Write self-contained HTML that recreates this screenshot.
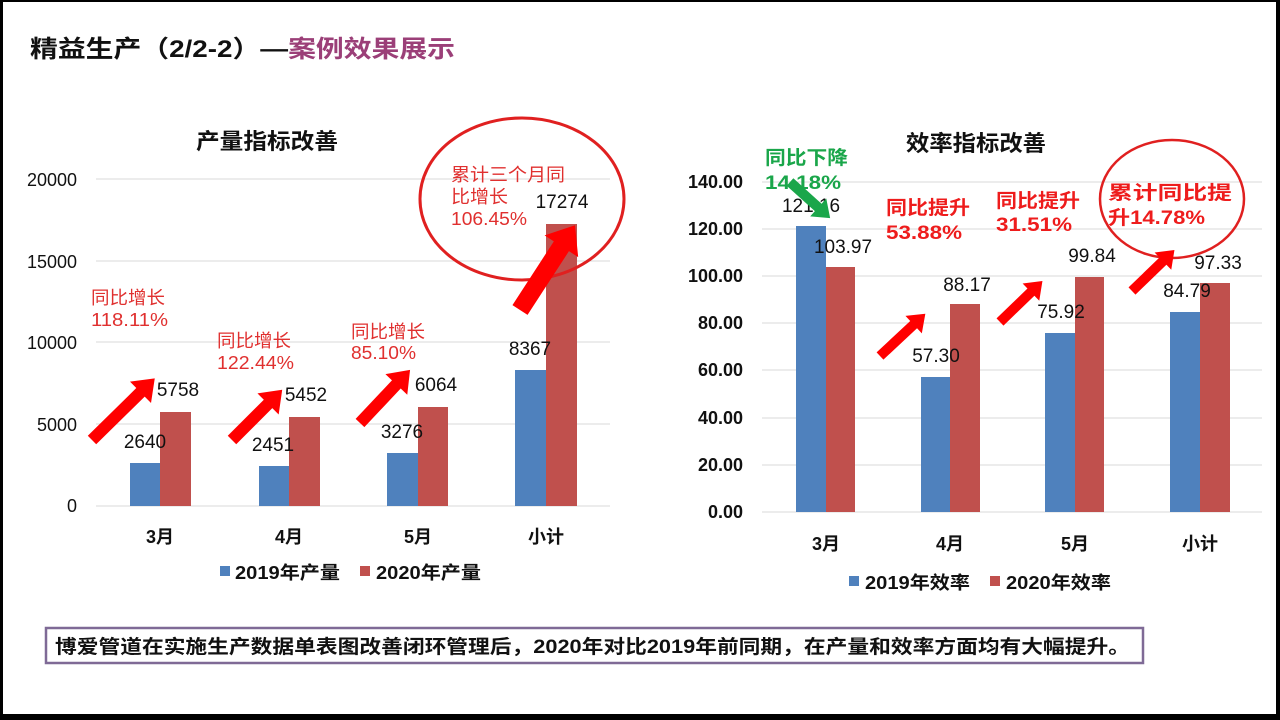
<!DOCTYPE html>
<html><head><meta charset="utf-8">
<style>
html,body{margin:0;padding:0;background:#fff;}
body{width:1280px;height:720px;overflow:hidden;}
svg{display:block;}
text{font-family:"Liberation Sans","Noto Sans CJK SC",sans-serif;}
</style></head><body>
<svg width="1280" height="720" viewBox="0 0 1280 720" xmlns="http://www.w3.org/2000/svg">
<rect x="0" y="0" width="1280" height="720" fill="#fff"/>
<rect x="0" y="0" width="1280" height="2" fill="#000"/>
<rect x="0" y="0" width="3" height="720" fill="#000"/>
<rect x="1276" y="0" width="4" height="720" fill="#000"/>
<rect x="0" y="714" width="1280" height="6" fill="#000"/>

<text x="30" y="57" font-size="24" font-weight="bold" fill="#111" textLength="425" lengthAdjust="spacingAndGlyphs">精益生产（2/2-2）—<tspan fill="#9b3f78">案例效果展示</tspan></text>

<!-- LEFT CHART -->
<text x="196" y="149" font-size="22" font-weight="bold" fill="#111" textLength="142" lengthAdjust="spacingAndGlyphs">产量指标改善</text>
<g stroke="#d9d9d9" stroke-width="1">
<line x1="96" y1="179" x2="610" y2="179"/>
<line x1="96" y1="261" x2="610" y2="261"/>
<line x1="96" y1="342" x2="610" y2="342"/>
<line x1="96" y1="424" x2="610" y2="424"/>
<line x1="96" y1="506" x2="610" y2="506"/>
</g>
<g font-size="18" text-anchor="end" fill="#111">
<text x="77" y="186">20000</text>
<text x="77" y="268">15000</text>
<text x="77" y="349">10000</text>
<text x="77" y="431">5000</text>
<text x="77" y="512">0</text>
</g>
<g fill="#4f81bd">
<rect x="130" y="463" width="30" height="43"/>
<rect x="259" y="466" width="30" height="40"/>
<rect x="387" y="453" width="31" height="53"/>
<rect x="515" y="370" width="31" height="136"/>
</g>
<g fill="#c0504d">
<rect x="160" y="412" width="31" height="94"/>
<rect x="289" y="417" width="31" height="89"/>
<rect x="418" y="407" width="30" height="99"/>
<rect x="546" y="224" width="31" height="282"/>
</g>
<g font-size="19" fill="#111" text-anchor="middle">
<text x="145" y="448">2640</text>
<text x="178" y="396">5758</text>
<text x="273" y="451">2451</text>
<text x="306" y="401">5452</text>
<text x="402" y="438">3276</text>
<text x="436" y="391">6064</text>
<text x="530" y="355">8367</text>
<text x="562" y="208">17274</text>
</g>
<g font-size="18" font-weight="bold" fill="#111" text-anchor="middle">
<text x="160" y="543">3月</text>
<text x="289" y="543">4月</text>
<text x="418" y="543">5月</text>
<text x="546" y="543">小计</text>
</g>
<rect x="220" y="566" width="10" height="10" fill="#4f81bd"/>
<text x="235" y="579" font-size="18" font-weight="bold" fill="#111" textLength="105" lengthAdjust="spacingAndGlyphs">2019年产量</text>
<rect x="360" y="566" width="10" height="10" fill="#c0504d"/>
<text x="376" y="579" font-size="18" font-weight="bold" fill="#111" textLength="105" lengthAdjust="spacingAndGlyphs">2020年产量</text>

<g font-size="18" fill="#e0302f">
<text x="91" y="304" textLength="74" lengthAdjust="spacingAndGlyphs">同比增长</text><text x="91" y="326" textLength="77" lengthAdjust="spacingAndGlyphs">118.11%</text>
<text x="217" y="347" textLength="74" lengthAdjust="spacingAndGlyphs">同比增长</text><text x="217" y="369" textLength="77" lengthAdjust="spacingAndGlyphs">122.44%</text>
<text x="351" y="338" textLength="74" lengthAdjust="spacingAndGlyphs">同比增长</text><text x="351" y="359" textLength="65" lengthAdjust="spacingAndGlyphs">85.10%</text>
<text x="451" y="181" textLength="114" lengthAdjust="spacingAndGlyphs">累计三个月同</text><text x="451" y="203" textLength="57" lengthAdjust="spacingAndGlyphs">比增长</text><text x="451" y="225" textLength="76" lengthAdjust="spacingAndGlyphs">106.45%</text>
</g>
<ellipse cx="522" cy="199" rx="102" ry="81" fill="none" stroke="#e02020" stroke-width="3"/>

<g fill="#ff0000">
<polygon transform="translate(92,440) rotate(-44.5)" points="0,-6 68,-6 68,-15 88,0 68,15 68,6 0,6"/>
<polygon transform="translate(232,440) rotate(-45)" points="0,-6 51,-6 51,-15 71,0 51,15 51,6 0,6"/>
<polygon transform="translate(360,423) rotate(-46.7)" points="0,-6 53,-6 53,-15 73,0 53,15 53,6 0,6"/>
<polygon transform="translate(520,310) rotate(-57)" points="0,-9 76,-9 76,-20 101,0 76,20 76,9 0,9"/>
</g>

<!-- RIGHT CHART -->
<text x="906" y="151" font-size="22" font-weight="bold" fill="#111" textLength="140" lengthAdjust="spacingAndGlyphs">效率指标改善</text>
<g stroke="#d9d9d9" stroke-width="1">
<line x1="762" y1="182" x2="1262" y2="182"/>
<line x1="762" y1="229" x2="1262" y2="229"/>
<line x1="762" y1="276" x2="1262" y2="276"/>
<line x1="762" y1="323" x2="1262" y2="323"/>
<line x1="762" y1="370" x2="1262" y2="370"/>
<line x1="762" y1="418" x2="1262" y2="418"/>
<line x1="762" y1="465" x2="1262" y2="465"/>
<line x1="762" y1="512" x2="1262" y2="512"/>
</g>
<g font-size="18" font-weight="bold" text-anchor="end" fill="#111">
<text x="743" y="188">140.00</text>
<text x="743" y="235">120.00</text>
<text x="743" y="282">100.00</text>
<text x="743" y="329">80.00</text>
<text x="743" y="376">60.00</text>
<text x="743" y="424">40.00</text>
<text x="743" y="471">20.00</text>
<text x="743" y="518">0.00</text>
</g>
<g fill="#4f81bd">
<rect x="796" y="226" width="30" height="286"/>
<rect x="921" y="377" width="29" height="135"/>
<rect x="1045" y="333" width="30" height="179"/>
<rect x="1170" y="312" width="30" height="200"/>
</g>
<g fill="#c0504d">
<rect x="826" y="267" width="29" height="245"/>
<rect x="950" y="304" width="30" height="208"/>
<rect x="1075" y="277" width="29" height="235"/>
<rect x="1200" y="283" width="30" height="229"/>
</g>
<g font-size="19" fill="#111" text-anchor="middle">
<text x="811" y="212">121.16</text>
<text x="843" y="253">103.97</text>
<text x="936" y="362">57.30</text>
<text x="967" y="291">88.17</text>
<text x="1061" y="318">75.92</text>
<text x="1092" y="262">99.84</text>
<text x="1187" y="297">84.79</text>
<text x="1218" y="269">97.33</text>
</g>
<g font-size="18" font-weight="bold" fill="#111" text-anchor="middle">
<text x="826" y="550">3月</text>
<text x="950" y="550">4月</text>
<text x="1075" y="550">5月</text>
<text x="1200" y="550">小计</text>
</g>
<rect x="849" y="576" width="10" height="10" fill="#4f81bd"/>
<text x="865" y="589" font-size="18" font-weight="bold" fill="#111" textLength="105" lengthAdjust="spacingAndGlyphs">2019年效率</text>
<rect x="990" y="576" width="10" height="10" fill="#c0504d"/>
<text x="1006" y="589" font-size="18" font-weight="bold" fill="#111" textLength="105" lengthAdjust="spacingAndGlyphs">2020年效率</text>

<g font-size="19" font-weight="bold">
<text x="765" y="164" fill="#1aa64a" textLength="83" lengthAdjust="spacingAndGlyphs">同比下降</text><text x="765" y="189" fill="#1aa64a" textLength="76" lengthAdjust="spacingAndGlyphs">14.18%</text>
<text x="886" y="214" fill="#ee1c1c" textLength="84" lengthAdjust="spacingAndGlyphs">同比提升</text><text x="886" y="239" fill="#ee1c1c" textLength="76" lengthAdjust="spacingAndGlyphs">53.88%</text>
<text x="996" y="207" fill="#ee1c1c" textLength="84" lengthAdjust="spacingAndGlyphs">同比提升</text><text x="996" y="231" fill="#ee1c1c" textLength="76" lengthAdjust="spacingAndGlyphs">31.51%</text>
<text x="1108" y="199" fill="#ee1c1c" textLength="124" lengthAdjust="spacingAndGlyphs">累计同比提</text><text x="1108" y="224" fill="#ee1c1c" textLength="97" lengthAdjust="spacingAndGlyphs">升14.78%</text>
</g>
<ellipse cx="1172" cy="199" rx="72" ry="59" fill="none" stroke="#e02020" stroke-width="2.5"/>

<polygon fill="#1aa64a" transform="translate(790,182) rotate(42)" points="0,-5 38,-5 38,-12 54,0 38,12 38,5 0,5"/>
<g fill="#ff0000">
<polygon transform="translate(880,356) rotate(-43)" points="0,-5 46,-5 46,-12 62,0 46,12 46,5 0,5"/>
<polygon transform="translate(1000,322) rotate(-44)" points="0,-5 43,-5 43,-12 59,0 43,12 43,5 0,5"/>
<polygon transform="translate(1132,291) rotate(-44)" points="0,-5 43,-5 43,-12 59,0 43,12 43,5 0,5"/>
</g>

<rect x="46" y="628" width="1097" height="35" fill="#fff" stroke="#7f6a96" stroke-width="2.5"/>
<text x="55" y="653" font-size="19" font-weight="bold" fill="#111" textLength="1075" lengthAdjust="spacingAndGlyphs">博爱管道在实施生产数据单表图改善闭环管理后，2020年对比2019年前同期，在产量和效率方面均有大幅提升。</text>
</svg>
</body></html>
